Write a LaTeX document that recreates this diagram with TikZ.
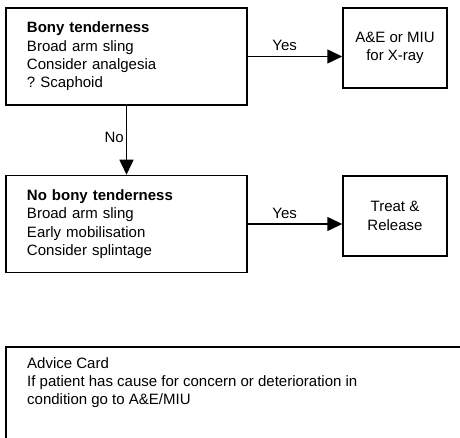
\documentclass[tikz,border=0pt]{standalone}
\usepackage{fontspec}
\setmainfont{Liberation Sans}
\frenchspacing
\usetikzlibrary{arrows.meta}
\begin{document}
\begin{tikzpicture}[x=1pt,y=-1pt,
  every node/.style={font=\fontsize{15}{18.3}\selectfont},
  bigbox/.style={draw,line width=1.5pt,minimum width=241pt,minimum height=97pt,text width=199pt,inner xsep=21pt,align=left},
  smallbox/.style={draw,line width=1.5pt,minimum width=104pt,minimum height=80pt,align=center,inner sep=0pt},
  conn/.style={line width=1.5pt,-{Triangle[length=15pt,width=14pt]}},
  lbl/.style={inner xsep=2pt,inner ysep=5pt}]
\clip (0,0) rectangle (460,438);
\useasboundingbox (0,0) rectangle (460,438);
\node[bigbox] (b1) at (126.5,56.5) {\textbf{Bony tenderness}\\Broad arm sling\\Consider analgesia\\? Scaphoid};
\node[smallbox] (b2) at (395,48) {A\&E or MIU\\for X-ray};
\node[bigbox] (b3) at (126.5,224) {\textbf{No bony tenderness}\\Broad arm sling\\Early mobilisation\\Consider splintage};
\node[smallbox] (b4) at (395,216) {Treat \&\\Release};
\draw[conn] (b1.east) -- node[lbl,above,pos=0.39]{Yes} (b1.east -| b2.west);
\draw[conn] (b3.east) -- node[lbl,above,pos=0.39]{Yes} (b3.east -| b4.west);
\draw[conn] (b1.south) -- node[lbl,left,pos=0.46]{No} (b3.north);
\draw[line width=1.5pt] (6,347) rectangle (480,460);
\node[anchor=north west,align=left,inner sep=0pt] (adv) at (27,357) {Advice Card\\If patient has cause for concern or deterioration in\\condition go to A\&E/MIU};
\end{tikzpicture}
\end{document}
